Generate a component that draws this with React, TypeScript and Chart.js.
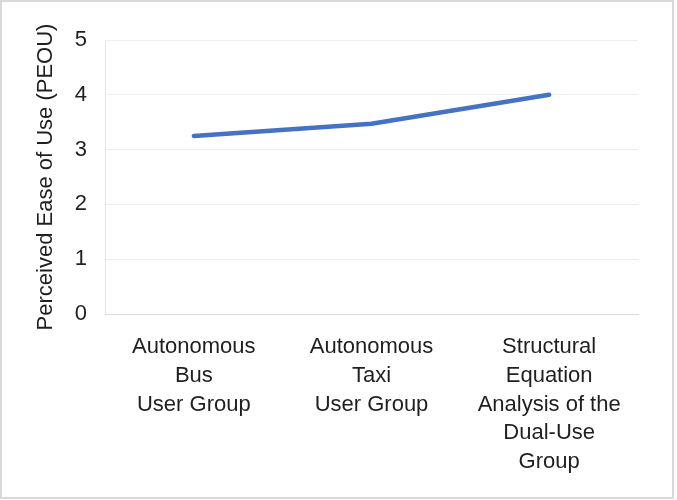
import React, { useEffect, useRef } from "react";
import { Chart, registerables } from "chart.js";

Chart.register(...registerables);

const categories: string[][] = [
  ["Autonomous", "Bus", "User Group"],
  ["Autonomous", "Taxi", "User Group"],
  ["Structural", "Equation", "Analysis of the", "Dual-Use", "Group"],
];
const peouValues: number[] = [3.25, 3.47, 4.0];
const yTicks: number[] = [0, 1, 2, 3, 4, 5];
const yTitle = "Perceived Ease of Use (PEOU)";

const FONT = "'Liberation Sans', Arial, sans-serif";
const TEXT = "#1f1f1f";

const borderPlugin = {
  id: "outerBorder",
  beforeDraw(chart: any) {
    const ctx = chart.ctx;
    ctx.save();
    ctx.fillStyle = "#ffffff";
    ctx.fillRect(0, 0, chart.width, chart.height);
    ctx.strokeStyle = "#d9d9d9";
    ctx.lineWidth = 2;
    ctx.strokeRect(1, 1, 672, 497);
    ctx.restore();
  },
};

export default function App() {
  const ref = useRef<HTMLCanvasElement | null>(null);

  useEffect(() => {
    if (!ref.current) return;
    const chart = new Chart(ref.current, {
      type: "line",
      data: {
        labels: categories,
        datasets: [
          {
            data: peouValues,
            borderColor: "#4472C4",
            borderWidth: 4.5,
            borderCapStyle: "round",
            borderJoinStyle: "round",
            pointRadius: 0,
            tension: 0,
            fill: false,
          },
        ],
      },
      options: {
        responsive: false,
        animation: false,
        events: [],
        layout: { padding: { left: 20, top: 40, right: 39, bottom: 0 } },
        plugins: {
          legend: { display: false },
          tooltip: { enabled: false },
        },
        scales: {
          x: {
            offset: true,
            grid: { display: false, drawTicks: false },
            border: { display: true, color: "#dcdcdc", width: 1 },
            ticks: {
              color: TEXT,
              font: { family: FONT, size: 22, lineHeight: 1.3 },
              padding: 19,
              maxRotation: 0,
              autoSkip: false,
            },
            afterFit: (s: any) => {
              s.height = 186;
            },
          },
          y: {
            min: 0,
            max: 5,
            afterBuildTicks: (s: any) => {
              s.ticks = yTicks.map((v) => ({ value: v }));
            },
            grid: { color: "#eeeeee", lineWidth: 1, drawTicks: false },
            border: { display: true, color: "#e6e6e6", width: 1 },
            ticks: {
              color: TEXT,
              font: { family: FONT, size: 22 },
              padding: 18,
            },
            title: {
              display: true,
              text: yTitle,
              color: TEXT,
              font: { family: FONT, size: 22 },
              padding: { top: 13, bottom: 0 },
            },
            afterFit: (s: any) => {
              s.width = 85;
            },
          },
        },
      },
      plugins: [borderPlugin],
    });
    return () => chart.destroy();
  }, []);

  return (
    <div style={{ position: "absolute", left: 0, top: 0, width: 677, height: 500 }}>
      <canvas ref={ref} width={677} height={500} style={{ display: "block" }} />
    </div>
  );
}
